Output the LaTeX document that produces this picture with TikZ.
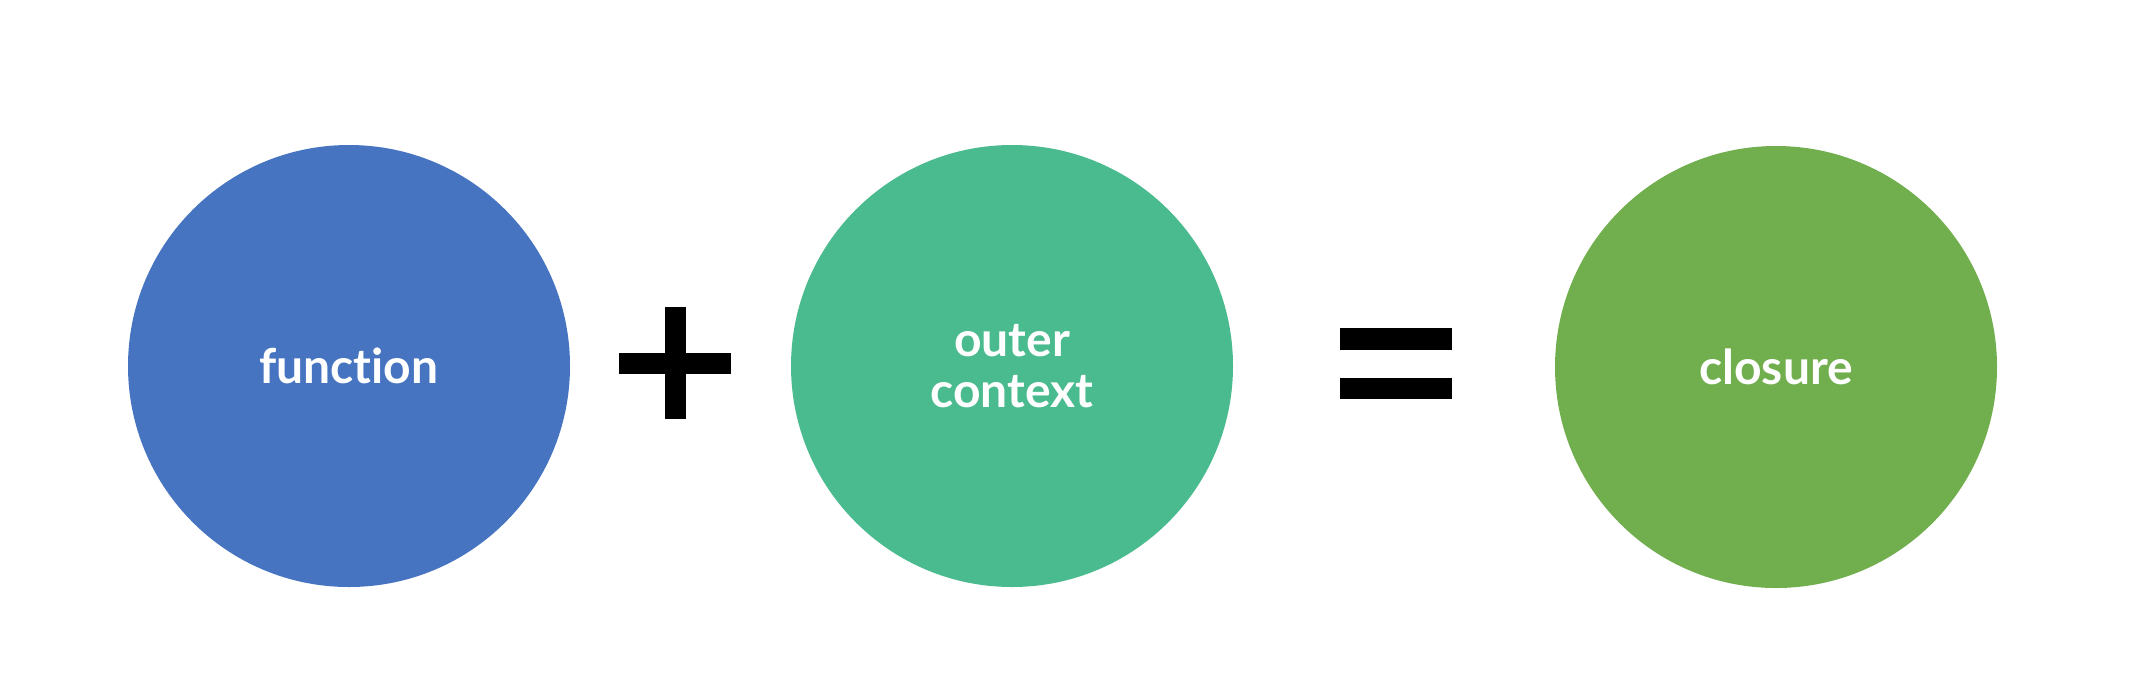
\documentclass[tikz,border=0pt]{standalone}
\usepackage{fontspec}
\setmainfont{Lato}[Ligatures=NoCommon]
\definecolor{cblue}{HTML}{4674C1}
\definecolor{cteal}{HTML}{4ABB8F}
\definecolor{colive}{HTML}{71AE4D}
\begin{document}
\begin{tikzpicture}[x=0.5pt,y=-0.5pt,
  disc/.style={circle,minimum size=221pt,inner sep=0pt,text=white,align=center,
    font=\bfseries\fontsize{24}{25.5}\selectfont},
  sym/.style={fill=black,draw=none}]
\useasboundingbox (0,0) rectangle (2130,692);
\fill[white] (0,0) rectangle (2130,692);
\node[disc,fill=cblue]  (fn)  at (349,366)  {function};
\node[disc,fill=cteal]  (ctx) at (1012,366) {outer\\context};
\node[disc,fill=colive] (cl)  at (1776,367) {closure};
% plus sign
\fill[sym] (665,307) rectangle (686,419);
\fill[sym] (619,353) rectangle (731,374);
% equals sign
\fill[sym] (1340,328) rectangle (1452,350);
\fill[sym] (1340,378) rectangle (1452,399);
\end{tikzpicture}
\end{document}
